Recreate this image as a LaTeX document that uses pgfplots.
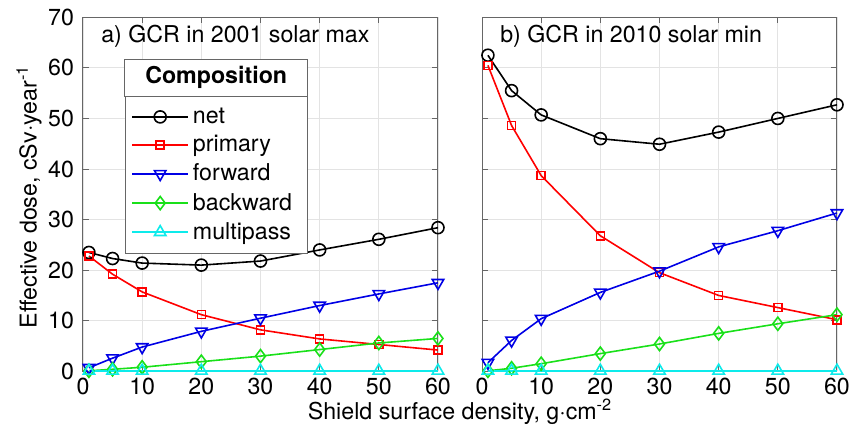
\documentclass[border=0pt]{standalone}
\usepackage{fontspec}
\setmainfont{TeX Gyre Heros}
\usepackage{pgfplots}
\usepackage{pgfplotstable}
\pgfplotsset{compat=1.18}
\usetikzlibrary{fit,calc}
\definecolor{mgreen}{rgb}{0.1,0.88,0.1}
\definecolor{mcyan}{rgb}{0.05,0.92,0.92}
\definecolor{mblue}{rgb}{0,0,0.9}
\definecolor{axgray}{gray}{0.4}

\pgfplotstableread{
x net primary forward backward multipass
1 23.5 22.8 0.7 0.1 0.1
5 22.3 19.2 2.6 0.4 0.1
10 21.4 15.7 4.8 0.8 0.1
20 21.0 11.2 7.9 1.9 0.1
30 21.8 8.2 10.5 3.0 0.1
40 24.0 6.4 13.0 4.3 0.1
50 26.1 5.3 15.3 5.6 0.1
60 28.4 4.2 17.5 6.5 0.1
}\tabA

\pgfplotstableread{
x net primary forward backward multipass
1 62.5 60.5 1.7 0.1 0.1
5 55.5 48.6 6.1 0.6 0.1
10 50.7 38.7 10.4 1.5 0.1
20 46.0 26.8 15.6 3.5 0.1
30 44.9 19.5 19.8 5.4 0.1
40 47.3 15.0 24.6 7.5 0.1
50 50.0 12.6 27.8 9.4 0.1
60 52.7 10.2 31.3 11.2 0.1
}\tabB

\pgfplotsset{
  myax/.style={
    scale only axis, width=177.5pt, height=177pt,
    xmin=0, xmax=60, ymin=0, ymax=70,
    xtick={0,10,...,60}, ytick={0,10,...,70},
    grid=major, major grid style={gray!22, line width=0.4pt},
    axis line style={axgray, line width=0.5pt},
    tick style={axgray, line width=0.5pt},
    tick align=inside, major tick length=3pt,
    /pgf/number format/assume math mode=true,
    ticklabel style={font=\fontsize{11.6}{13.5}\selectfont},
    yticklabel style={xshift=-1pt},
    clip=false,
    every axis plot/.append style={line width=0.8pt},
    legend image code/.code={\draw[mark repeat=2,mark phase=2,##1] plot coordinates {(0pt,0pt) (14pt,0pt) (28pt,0pt)};},
  },
  snet/.style={black, mark=o, mark size=3pt, mark options={solid}},
  sprim/.style={red, mark=square, mark size=2pt, mark options={solid}},
  sfwd/.style={mblue, mark=triangle, mark size=3.3pt, mark options={solid, rotate=180}},
  sbwd/.style={mgreen, mark=diamond, mark size=3.3pt, mark options={solid}},
  smul/.style={mcyan, mark=triangle, mark size=3.3pt, mark options={solid}},
}

\begin{document}
\begin{tikzpicture}[font=\fontsize{11.6}{13.5}\selectfont]
\begin{axis}[myax,
  legend style={at={(0.1183,0.777)}, anchor=north west, name=leg,
    draw=axgray, fill=white, row sep=0.6pt, inner xsep=3pt, inner ysep=3.5pt,
    cells={anchor=west}, font=\fontsize{11.6}{13.5}\selectfont},
  ]
\addplot[snet] table[x=x,y=net] {\tabA};
\addlegendentry{\makebox[52pt][l]{net}}
\addplot[sprim] table[x=x,y=primary] {\tabA};
\addlegendentry{\makebox[52pt][l]{primary}}
\addplot[sfwd] table[x=x,y=forward] {\tabA};
\addlegendentry{\makebox[52pt][l]{forward}}
\addplot[sbwd] table[x=x,y=backward] {\tabA};
\addlegendentry{\makebox[52pt][l]{backward}}
\addplot[smul] table[x=x,y=multipass] {\tabA};
\addlegendentry{\makebox[52pt][l]{multipass}}
\node[anchor=west] at (axis cs:1.9,66.3) {a) GCR in 2001 solar max};
\end{axis}
\node[draw=axgray, fill=white, inner sep=0pt, line width=0.5pt,
  fit={(leg.north west) ($(leg.north east)+(0,18.5pt)$)}] (ttl) {};
\node at (ttl.center) {\bfseries Composition};

\begin{axis}[myax, xshift=199.5pt, yticklabels={}]
\addplot[snet] table[x=x,y=net] {\tabB};
\addplot[sprim] table[x=x,y=primary] {\tabB};
\addplot[sfwd] table[x=x,y=forward] {\tabB};
\addplot[sbwd] table[x=x,y=backward] {\tabB};
\addplot[smul] table[x=x,y=multipass] {\tabB};
\node[anchor=west] at (axis cs:1.9,66.3) {b) GCR in 2010 solar min};
\end{axis}

\node[anchor=base] at (188.5pt,-23.85pt) {Shield surface density, g·cm\textsuperscript{-2}};
\node[anchor=base, rotate=90] at (-23.15pt,87.2pt) {Effective dose, cSv·year\textsuperscript{-1}};

\pgfresetboundingbox
\path[use as bounding box] (-41.5pt,-31.85pt) rectangle (387pt,185.65pt);
\end{tikzpicture}
\end{document}
